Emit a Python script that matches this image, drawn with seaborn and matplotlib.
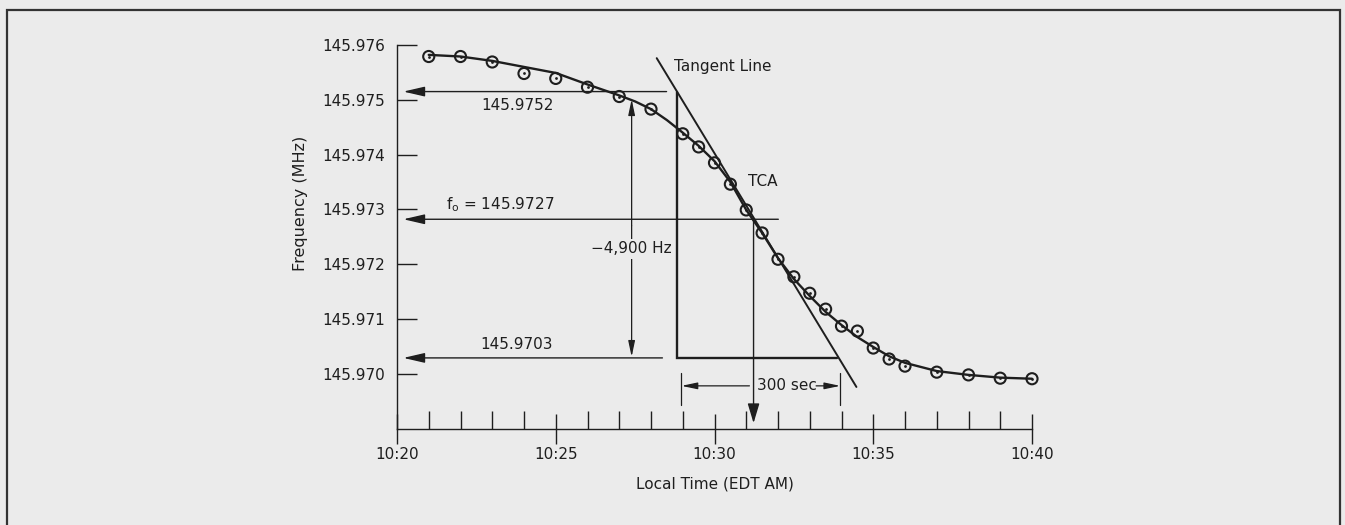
import matplotlib
matplotlib.use("Agg")
import matplotlib.pyplot as plt
import seaborn as sns
from matplotlib.patches import Rectangle

# ---------------- data ----------------
# time axis in minutes after 10:00
obs_minute = [21, 22, 23, 24, 25, 26, 27, 28, 29, 29.5, 30, 30.5, 31, 31.5,
              32, 32.5, 33, 33.5, 34, 34.5, 35, 35.5, 36, 37, 38, 39, 40]
obs_freq = [145.97579, 145.97579, 145.97569, 145.97548, 145.97539, 145.97523,
            145.97506, 145.97483, 145.97438, 145.97414, 145.97385, 145.97346,
            145.97299, 145.97257, 145.97209, 145.97177, 145.97147, 145.97118,
            145.97087, 145.97078, 145.97047, 145.97027, 145.97014, 145.97003,
            145.96998, 145.96992, 145.96991]

fit_minute = [21, 22, 23, 24, 25, 26, 27, 27.5, 28, 28.5, 29, 29.5, 30, 30.5,
              31, 31.5, 32, 32.5, 33, 33.5, 34, 34.5, 35, 35.5, 36, 37, 38,
              39, 40]
fit_freq = [145.97582, 145.97579, 145.97571, 145.97560, 145.97549, 145.97528,
            145.97508, 145.97497, 145.97483, 145.97463, 145.97440, 145.97416,
            145.97388, 145.97350, 145.97299, 145.97257, 145.97211, 145.97173,
            145.97142, 145.97113, 145.97089, 145.97067, 145.97049, 145.97032,
            145.97020, 145.97005, 145.96998, 145.96993, 145.96991]

tangent_minute = [28.18, 34.47]
tangent_freq = [145.97576, 145.96976]

x_major = [20, 25, 30, 35, 40]
x_major_labels = ["10:20", "10:25", "10:30", "10:35", "10:40"]
x_minor = [21, 22, 23, 24, 26, 27, 28, 29, 31, 32, 33, 34, 36, 37, 38, 39]
y_ticks = [145.970, 145.971, 145.972, 145.973, 145.974, 145.975, 145.976]
y_tick_labels = ["145.970", "145.971", "145.972", "145.973", "145.974",
                 "145.975", "145.976"]

# annotation levels / times
level_start = 145.97515      # labelled 145.9752
level_f0 = 145.97282         # labelled 145.9727
level_end = 145.97029        # labelled 145.9703
label_start = "145.9752"
label_f0 = r"f$_\mathregular{o}$ = 145.9727"
label_end = "145.9703"
label_shift = "\u22124,900 Hz"
label_dt = "300 sec"
tca_minute = 31.23
box_minute = [28.81, 33.87]
shift_minute = 27.39
dt_minute = [28.96, 33.96]

# ---------------- style ----------------
bg = "#ebebeb"
ink = "#1e1e1e"
sns.set_theme(style="white")
plt.rcParams["font.family"] = ["DejaVu Sans"]
plt.rcParams["text.color"] = ink
plt.rcParams["axes.labelcolor"] = ink
plt.rcParams["xtick.color"] = ink
plt.rcParams["ytick.color"] = ink

fig = plt.figure(figsize=(13.45, 5.25), dpi=100, facecolor=bg)
ax = fig.add_axes([397 / 1345, 1 - 428.6 / 525, 635 / 1345, 383.6 / 525])
ax.set_facecolor("none")

# fitted curve and observations
sns.lineplot(x=fit_minute, y=fit_freq, ax=ax, color=ink, lw=1.7, sort=False,
             solid_joinstyle="round", clip_on=False)
sns.scatterplot(x=obs_minute, y=obs_freq, ax=ax, marker="o", s=64,
                facecolors="none", edgecolor=ink, linewidth=1.5, clip_on=False,
                zorder=4)
sns.scatterplot(x=obs_minute, y=obs_freq, ax=ax, marker="o", s=4,
                color=ink, linewidth=0, clip_on=False, zorder=4)

# tangent line
ax.plot(tangent_minute, tangent_freq, color=ink, lw=1.4, clip_on=False)

# box (tangent triangle)
ax.plot([box_minute[0], box_minute[0], box_minute[1]],
        [level_start, level_end, level_end], color=ink, lw=1.7,
        solid_joinstyle="miter")

big = dict(arrowstyle="-|>,head_length=1.3,head_width=0.3", color=ink,
           lw=1.0, shrinkA=0, shrinkB=0, mutation_scale=10)
small = dict(arrowstyle="-|>,head_length=0.95,head_width=0.2", color=ink,
             lw=0.9, shrinkA=0, shrinkB=0, mutation_scale=10)

# horizontal arrows to the frequency axis
ax.annotate("", xy=(20.2, level_start), xytext=(28.49, level_start), arrowprops=big)
ax.annotate("", xy=(20.2, level_f0), xytext=(32.01, level_f0), arrowprops=big)
ax.annotate("", xy=(20.2, level_end), xytext=(28.36, level_end), arrowprops=big)
ax.text(23.78, 145.97489, label_start, ha="center", va="center", fontsize=11)
ax.text(23.24, 145.97308, label_f0, ha="center", va="center", fontsize=11)
ax.text(23.78, 145.97053, label_end, ha="center", va="center", fontsize=11)

# -4,900 Hz dimension
ax.annotate("", xy=(shift_minute, 145.97501), xytext=(shift_minute, 145.9727),
            arrowprops=small)
ax.annotate("", xy=(shift_minute, level_end + 0.00002),
            xytext=(shift_minute, 145.9727), arrowprops=small)
ax.text(shift_minute, 145.97228, label_shift, ha="center", va="center",
        fontsize=11, bbox=dict(facecolor=bg, edgecolor="none", pad=2))

# TCA
ax.annotate("", xy=(tca_minute, 145.9691), xytext=(tca_minute, 145.97284),
            arrowprops=dict(arrowstyle="-|>,head_length=1.2,head_width=0.36",
                            color=ink, lw=1.0, shrinkA=0, shrinkB=0,
                            mutation_scale=10),
            annotation_clip=False)
ax.text(tca_minute + 0.3, 145.9735, "TCA", ha="center", va="center", fontsize=11)
ax.text(28.72, 145.9756, "Tangent Line", ha="left", va="center", fontsize=11)

# 300 sec dimension
for m in dt_minute:
    ax.plot([m, m], [145.97001, 145.96943], color=ink, lw=0.9, clip_on=False)
ax.annotate("", xy=(dt_minute[0], 145.96978), xytext=(31.1, 145.96978),
            arrowprops=small)
ax.annotate("", xy=(dt_minute[1], 145.96978), xytext=(33.2, 145.96978),
            arrowprops=small)
ax.text(32.28, 145.96978, label_dt, ha="center", va="center", fontsize=11)

# axes
ax.set_xlim(20, 40)
ax.set_ylim(145.969, 145.976)
ax.set_xticks(x_major)
ax.set_xticklabels(x_major_labels)
ax.set_xticks(x_minor, minor=True)
ax.set_yticks(y_ticks)
ax.set_yticklabels(y_tick_labels)
ax.tick_params(axis="x", which="major", direction="inout", length=22,
               width=1.0, pad=2, labelsize=11)
ax.tick_params(axis="x", which="minor", direction="in", length=13, width=1.0)
ax.tick_params(axis="y", which="major", direction="in", length=14.4,
               width=1.0, pad=8.6, labelsize=11)
ax.tick_params(left=True, bottom=True, which="both")
sns.despine(ax=ax)
for s in ("left", "bottom"):
    ax.spines[s].set_color(ink)
    ax.spines[s].set_linewidth(1.0)

ax.set_xlabel("Local Time (EDT AM)", fontsize=11, labelpad=11)
ax.set_ylabel("Frequency (MHz)", fontsize=11.5)
ax.yaxis.set_label_coords(-0.140, 0.586)

# frame around the figure
fig.add_artist(Rectangle((7 / 1345, -0.05), 1333 / 1345, 1.05 - 10 / 525,
                         transform=fig.transFigure, fill=False,
                         edgecolor="#333333", lw=1.6))

fig.savefig("out.png", dpi=100, facecolor=bg)
